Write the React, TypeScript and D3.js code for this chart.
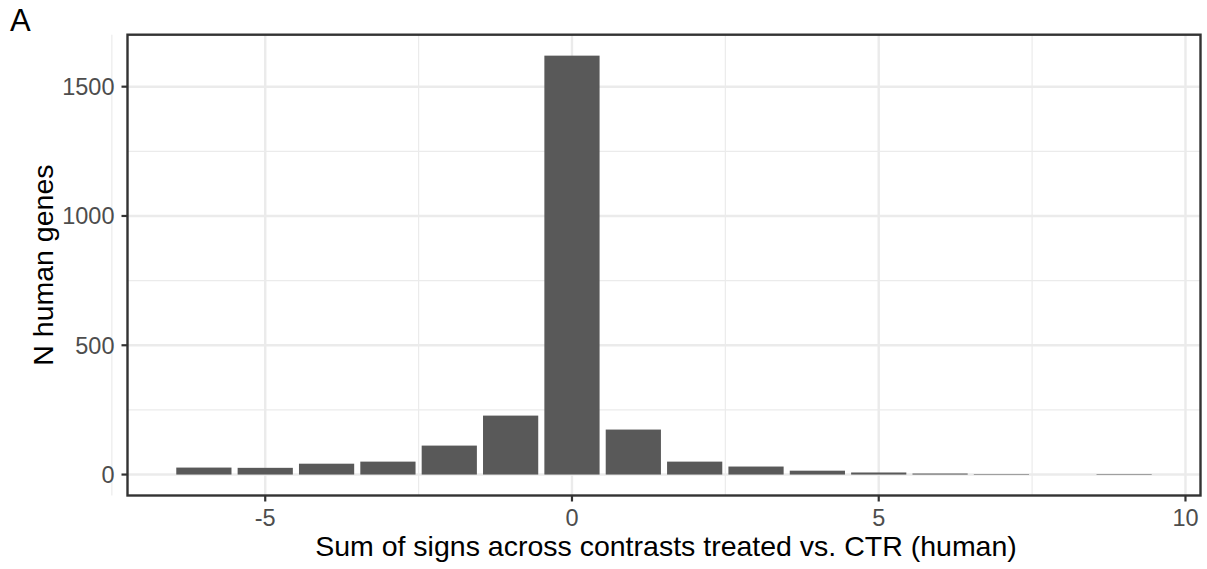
import React from "react";
import * as d3 from "d3";

// Sum of signs per gene and the number of human genes at each value
const signSums = [-6, -5, -4, -3, -2, -1, 0, 1, 2, 3, 4, 5, 6, 7, 9];
const geneCounts = [27, 26, 42, 50, 112, 228, 1620, 174, 50, 31, 15, 8, 4, 2, 2];

const xTicks = [-5, 0, 5, 10];
const xMinor = [-7.5, -2.5, 2.5, 7.5];
const yTicks = [0, 500, 1000, 1500];
const yMinor = [250, 750, 1250];

const W = 1207;
const H = 569;
const panel = { left: 127.5, right: 1200.5, top: 34.7, bottom: 495.5 };
const FONT = "'Liberation Sans', Arial, sans-serif";

export default function App() {
  const barWidth = 0.9;
  const xMinData = d3.min(signSums)! - barWidth / 2;
  const xMaxData = d3.max(signSums)! + barWidth / 2;
  const xPad = (xMaxData - xMinData) * 0.05;
  const x = d3
    .scaleLinear()
    .domain([xMinData - xPad, xMaxData + xPad])
    .range([panel.left, panel.right]);

  const yMax = d3.max(geneCounts)!;
  const y = d3
    .scaleLinear()
    .domain([-yMax * 0.05, yMax * 1.05])
    .range([panel.bottom, panel.top]);

  const grid = "#EBEBEB";
  const axisCol = "#333333";
  const tickText = "#4D4D4D";

  return (
    <svg
      width={W}
      height={H}
      style={{ position: "absolute", left: 0, top: 0, background: "#fff" }}
      fontFamily={FONT}
    >
      <rect x={0} y={0} width={W} height={H} fill="#fff" />
      {/* minor grid */}
      {xMinor.map((v) => (
        <line key={"xm" + v} x1={x(v)} x2={x(v)} y1={panel.top} y2={panel.bottom} stroke={grid} strokeWidth={1.2} />
      ))}
      {yMinor.map((v) => (
        <line key={"ym" + v} x1={panel.left} x2={panel.right} y1={y(v)} y2={y(v)} stroke={grid} strokeWidth={1.2} />
      ))}
      {/* major grid */}
      {xTicks.map((v) => (
        <line key={"xg" + v} x1={x(v)} x2={x(v)} y1={panel.top} y2={panel.bottom} stroke={grid} strokeWidth={2.4} />
      ))}
      {yTicks.map((v) => (
        <line key={"yg" + v} x1={panel.left} x2={panel.right} y1={y(v)} y2={y(v)} stroke={grid} strokeWidth={2.4} />
      ))}
      {/* bars */}
      {signSums.map((s, i) => (
        <rect
          key={"b" + s}
          x={x(s - barWidth / 2)}
          width={x(s + barWidth / 2) - x(s - barWidth / 2)}
          y={y(geneCounts[i])}
          height={y(0) - y(geneCounts[i])}
          fill="#595959"
        />
      ))}
      {/* panel border */}
      <rect
        x={panel.left}
        y={panel.top}
        width={panel.right - panel.left}
        height={panel.bottom - panel.top}
        fill="none"
        stroke={axisCol}
        strokeWidth={2.4}
      />
      {/* x axis ticks */}
      {xTicks.map((v) => (
        <g key={"xt" + v}>
          <line x1={x(v)} x2={x(v)} y1={panel.bottom} y2={panel.bottom + 6} stroke={axisCol} strokeWidth={2.2} />
          <text x={x(v)} y={panel.bottom + 30} textAnchor="middle" fontSize={23.5} fill={tickText}>
            {v}
          </text>
        </g>
      ))}
      {/* y axis ticks */}
      {yTicks.map((v) => (
        <g key={"yt" + v}>
          <line x1={panel.left - 6} x2={panel.left} y1={y(v)} y2={y(v)} stroke={axisCol} strokeWidth={2.2} />
          <text x={panel.left - 13} y={y(v)} dy="0.36em" textAnchor="end" fontSize={23.5} fill={tickText}>
            {v}
          </text>
        </g>
      ))}
      {/* axis titles */}
      <text x={(panel.left + panel.right) / 2 + 2} y={556} textAnchor="middle" fontSize={28.5} fill="#000">
        Sum of signs across contrasts treated vs. CTR (human)
      </text>
      <text
        transform={`translate(53, ${(panel.top + panel.bottom) / 2}) rotate(-90)`}
        textAnchor="middle"
        fontSize={28.5}
        fill="#000"
      >
        N human genes
      </text>
      {/* panel tag */}
      <text x={10} y={31} fontSize={31} fill="#000">
        A
      </text>
    </svg>
  );
}
